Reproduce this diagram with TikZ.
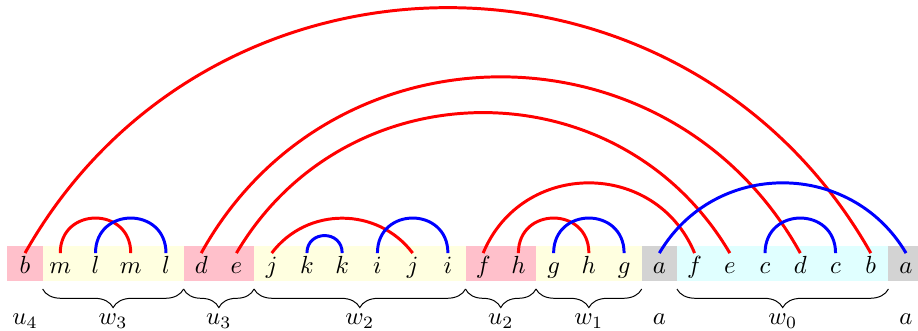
\documentclass[tikz,border=0pt]{standalone}
\usetikzlibrary{decorations.pathreplacing}
\definecolor{boxpink}{HTML}{FFC0CB}
\definecolor{boxyellow}{HTML}{FFFFE0}
\definecolor{boxcyan}{HTML}{E0FFFF}
\definecolor{boxgrey}{HTML}{D3D3D3}
\tikzset{
  redarc/.style={red, line width=1.2pt},
  bluearc/.style={blue, line width=1.2pt},
  semi/.style={out=90, in=90, looseness=1.7},
  wide/.style={out=59.5, in=120.5, looseness=1.13},
  underbrace/.style={decorate, decoration={brace, mirror, amplitude=7.5pt}},
  lbl/.style={anchor=base},
}
\begin{document}
\begin{tikzpicture}
    \useasboundingbox (-0.355,-0.955) rectangle (12.67,3.741);
    % Blocks
    \fill[boxpink] (-0.25,-0.25) rectangle (0.25,0.25);
    \fill[boxyellow] (0.25,-0.25) rectangle (2.25,0.25);
    \fill[boxpink] (2.25,-0.25) rectangle (3.25,0.25);
    \fill[boxyellow] (3.25,-0.25) rectangle (6.25,0.25);
    \fill[boxpink] (6.25,-0.25) rectangle (7.25,0.25);
    \fill[boxyellow] (7.25,-0.25) rectangle (8.75,0.25);
    \fill[boxgrey] (8.75,-0.25) rectangle (9.25,0.25);
    \fill[boxcyan] (9.25,-0.25) rectangle (12.25,0.25);
    \fill[boxgrey] (12.25,-0.25) rectangle (12.75,0.25);

    % Letters
    \foreach \c [count=\n from 0] in {b,m,l,m,l,d,e,j,k,k,i,j,i,f,h,g,h,g,a,f,e,c,d,c,b,a} {
        \node (l\n) [lbl] at (\n*0.5,-0.136) {$\c$};
        \coordinate (p\n) at (\n*0.5,0.15);
    }

    % Arcs
    \draw [redarc] (p0) to[out=60.5, in=119.5, looseness=1.14] (p24);
    \draw [redarc] (p1) to[semi] (p3);
    \draw [bluearc] (p2) to[semi] (p4);
    \draw [redarc] (p5) to[out=61, in=119, looseness=1.15] (p22);
    \draw [redarc] (p6) to[wide] (p20);
    \draw [redarc] (p7) to[out=53, in=127, looseness=1.06] (p11);
    \draw [bluearc] (p8) to[semi] (p9);
    \draw [bluearc] (p10) to[semi] (p12);
    \draw [redarc] (p13) to[out=67.4, in=112.6, looseness=1.23] (p19);
    \draw [redarc] (p14) to[semi] (p16);
    \draw [bluearc] (p15) to[semi] (p17);
    \draw [bluearc] (p18) to[wide] (p25);
    \draw [bluearc] (p21) to[semi] (p23);

    % Braces
    \draw [underbrace] (0.25,-0.36) -- (2.25,-0.36);
    \draw [underbrace] (2.25,-0.36) -- (3.25,-0.36);
    \draw [underbrace] (3.25,-0.36) -- (6.25,-0.36);
    \draw [underbrace] (6.25,-0.36) -- (7.25,-0.36);
    \draw [underbrace] (7.25,-0.36) -- (8.75,-0.36);
    \draw [underbrace] (9.25,-0.36) -- (12.25,-0.36);

    % Labels
    \node (u4) [lbl] at (0,-0.87) {$u_4$};
    \node (w3) [lbl] at (1.25,-0.87) {$w_3$};
    \node (u3) [lbl] at (2.75,-0.87) {$u_3$};
    \node (w2) [lbl] at (4.75,-0.87) {$w_2$};
    \node (u2) [lbl] at (6.75,-0.87) {$u_2$};
    \node (w1) [lbl] at (8,-0.87) {$w_1$};
    \node (a0) [lbl] at (9,-0.87) {$a$};
    \node (w0) [lbl] at (10.75,-0.87) {$w_0$};
    \node (a1) [lbl] at (12.5,-0.87) {$a$};
\end{tikzpicture}
\end{document}
